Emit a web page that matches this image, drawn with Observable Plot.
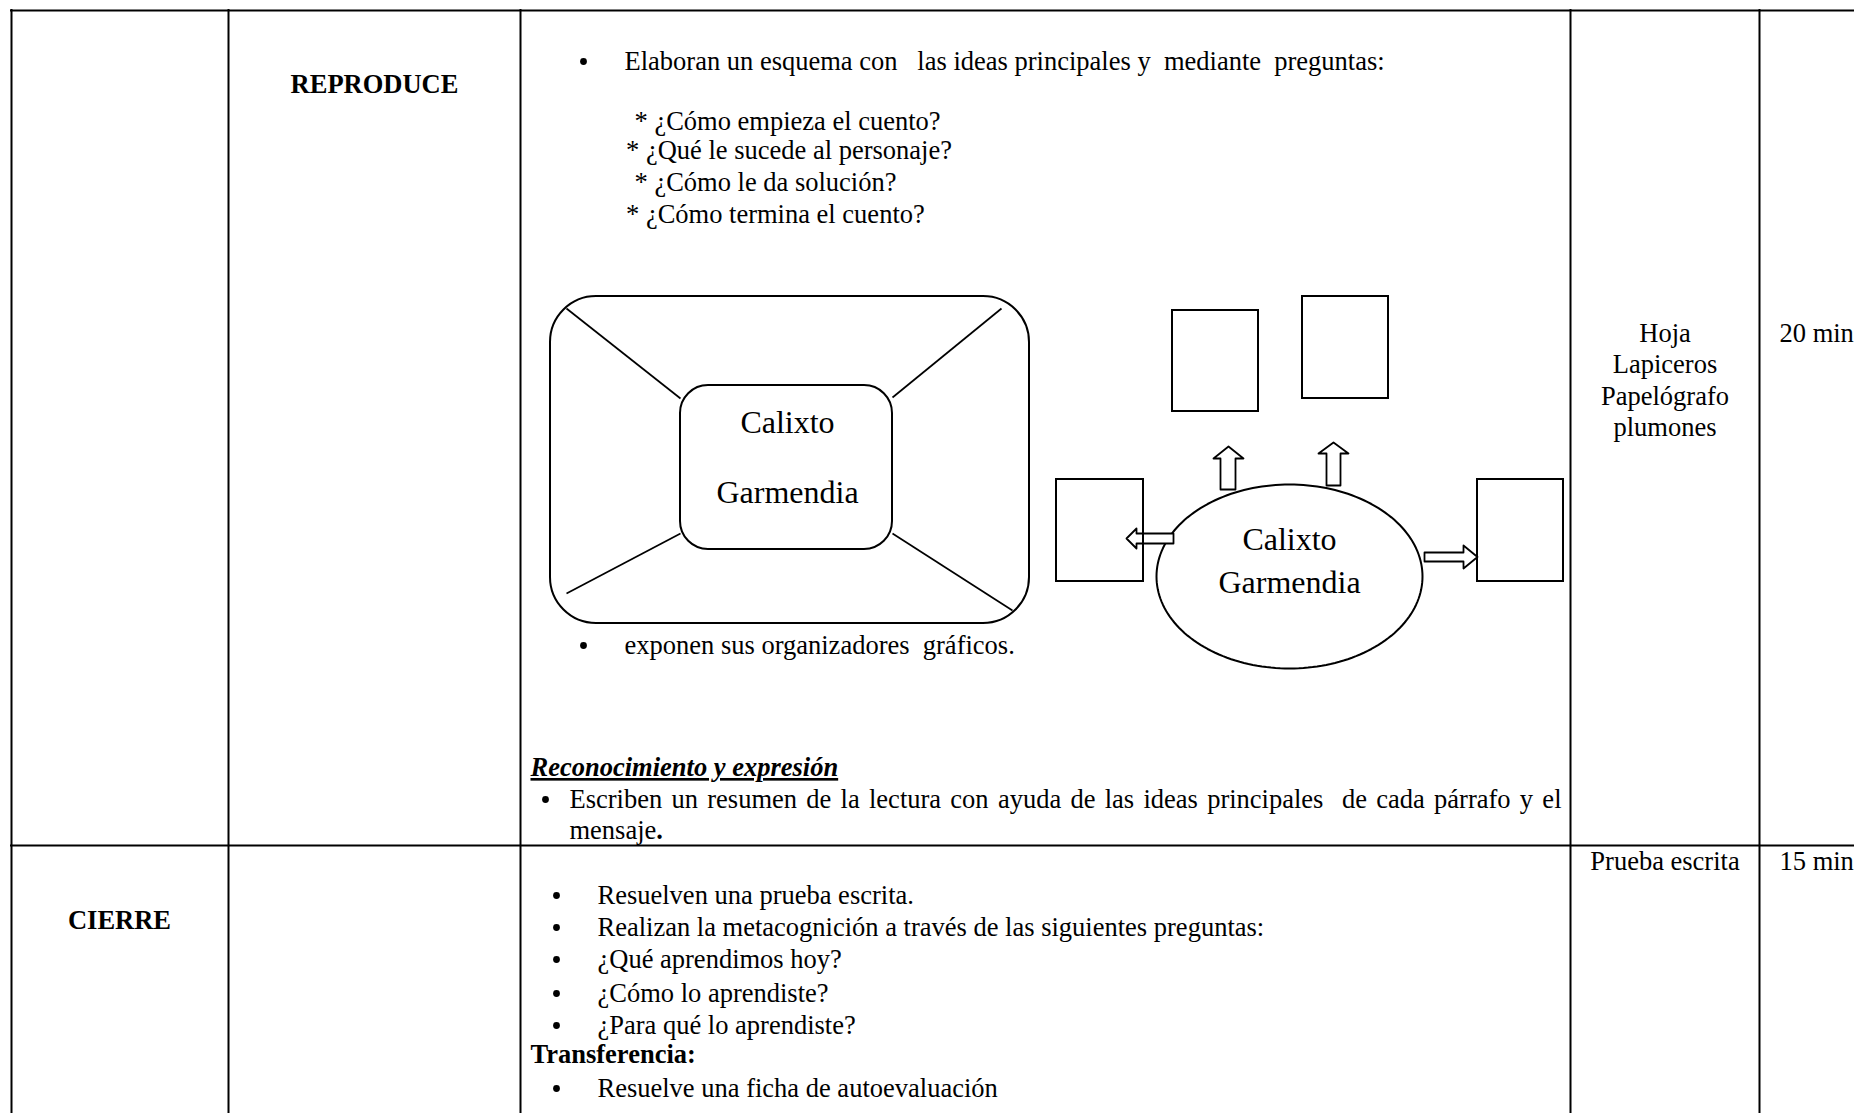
<!DOCTYPE html>
<html><head><meta charset="utf-8">
<script src="https://cdn.jsdelivr.net/npm/d3@7"></script>
<script src="https://cdn.jsdelivr.net/npm/@observablehq/plot@0.6"></script>
<style>
html,body{margin:0;padding:0;background:#fff;}
#chart svg{display:block;background:#fff;}
#chart svg text{white-space:pre;}
</style></head><body><div id="chart"></div>
<script>
const W = 1854, H = 1113;
const FONT = "'Liberation Serif','Times New Roman',serif";

// ---- table grid ----
const columnLinesX = [11, 228, 520, 1570, 1759];
const rowLinesY = [10, 845];

// ---- section labels (bold, centered) ----
const sectionLabels = [
  {text: "REPRODUCE", x: 374, y: 84},
  {text: "CIERRE", x: 119, y: 920}
];

// ---- activity text lines (left aligned) ----
const reproduceLines = [
  {text: "Elaboran un esquema con   las ideas principales y  mediante  preguntas:", x: 624, y: 61},
  {text: "* ¿Cómo empieza el cuento?", x: 634, y: 121},
  {text: "* ¿Qué le sucede al personaje?", x: 625.5, y: 150},
  {text: "* ¿Cómo le da solución?", x: 634, y: 182},
  {text: "* ¿Cómo termina el cuento?", x: 625.5, y: 214},
  {text: "exponen sus organizadores  gráficos.", x: 624, y: 645},
  {text: "Escriben un resumen de la lectura con ayuda de las ideas principales  de cada párrafo y el", x: 569, y: 799},
  {text: "mensaje.", x: 569, y: 830}
];
const cierreLines = [
  {text: "Resuelven una prueba escrita.", x: 597, y: 895},
  {text: "Realizan la metacognición a través de las siguientes preguntas:", x: 597, y: 927},
  {text: "¿Qué aprendimos hoy?", x: 597, y: 959},
  {text: "¿Cómo lo aprendiste?", x: 597, y: 993},
  {text: "¿Para qué lo aprendiste?", x: 597, y: 1025},
  {text: "Resuelve una ficha de autoevaluación", x: 597, y: 1088}
];
const subHeadingItalic = [{text: "Reconocimiento y expresión", x: 530, y: 767}];
const subHeadingBold = [{text: "Transferencia:", x: 530, y: 1054}];
const bullets = [
  {x: 583, y: 61}, {x: 583, y: 645}, {x: 545, y: 799},
  {x: 556, y: 895}, {x: 556, y: 927}, {x: 556, y: 959},
  {x: 556, y: 993}, {x: 556, y: 1025}, {x: 556, y: 1088}
];

// ---- resources & time columns ----
const resources = ["Hoja", "Lapiceros", "Papelógrafo", "plumones", "Prueba escrita"];
const resourceY = [333, 364.5, 396, 427.5, 861];
const resourceX = 1664.5;
const times = ["20 min", "15 min"];
const timeY = [333, 861];
const timeX = 1779;

// ---- diagram 1: rounded frames with diagonal connectors ----
const frames = [
  {x1: 550, x2: 1029, y1: 296, y2: 623},
  {x1: 680, x2: 892, y1: 385, y2: 549}
];
const connectors = [
  {x1: 566, y1: 308, x2: 680, y2: 398},
  {x1: 1001, y1: 308, x2: 892, y2: 397},
  {x1: 566, y1: 593, x2: 680, y2: 533},
  {x1: 1012, y1: 610, x2: 892, y2: 533}
];
const diagramLabels = [
  {text: "Calixto", x: 787, y: 422},
  {text: "Garmendia", x: 787, y: 492},
  {text: "Calixto", x: 1289, y: 539},
  {text: "Garmendia", x: 1289, y: 582}
];

// ---- diagram 2: ellipse, boxes and block arrows ----
const ellipseSpec = {cx: 1289, cy: 576, rx: 133, ry: 92};
const boxes = [
  {x1: 1172, x2: 1258, y1: 310, y2: 411},
  {x1: 1302, x2: 1388, y1: 296, y2: 398},
  {x1: 1056, x2: 1143, y1: 479, y2: 581},
  {x1: 1477, x2: 1563, y1: 479, y2: 581}
];
const arrowUp1 = [[1220,489],[1220,458],[1213,458],[1228,446],[1243,458],[1235,458],[1235,489]];
const arrowUp2 = [[1326,485],[1326,453],[1318,453],[1333,442],[1348,453],[1340,453],[1340,485]];
const arrowLeft = [[1173,533],[1136,533],[1136,528],[1126,538],[1136,548],[1136,543],[1173,543]];
const arrowRight = [[1424,552],[1463,552],[1463,545],[1477,556.5],[1463,568],[1463,561],[1424,561]];

const arrowPts = [arrowUp1, arrowUp2, arrowLeft, arrowRight]
  .flatMap((a, i) => a.map(([x, y]) => ({x, y, id: i})));
const ellipsePts = d3.range(0, 360, 2).map(a => ({
  x: ellipseSpec.cx + ellipseSpec.rx * Math.cos(a * Math.PI / 180),
  y: ellipseSpec.cy + ellipseSpec.ry * Math.sin(a * Math.PI / 180)
}));

const txt = {fontFamily: FONT, fill: "#000", lineAnchor: "middle"};

const plot = Plot.plot({
  width: W, height: H,
  margin: 0,
  x: {domain: [0, W], range: [0, W], axis: null},
  y: {domain: [0, H], range: [0, H], axis: null},
  style: {background: "#fff", fontFamily: FONT},
  marks: [
    // grid
    Plot.ruleX(columnLinesX, {x: d => d, y1: 9, y2: H, stroke: "#000", strokeWidth: 2}),
    Plot.ruleY(rowLinesY, {y: d => d, x1: 10, x2: W, stroke: "#000", strokeWidth: 2}),
    // diagram 1
    Plot.rect(frames.slice(0, 1), {x1: "x1", x2: "x2", y1: "y1", y2: "y2", rx: 46, ry: 46, fill: "none", stroke: "#000", strokeWidth: 2}),
    Plot.link(connectors, {x1: "x1", y1: "y1", x2: "x2", y2: "y2", stroke: "#000", strokeWidth: 1.7}),
    Plot.rect(frames.slice(1), {x1: "x1", x2: "x2", y1: "y1", y2: "y2", rx: 28, ry: 28, fill: "#fff", stroke: "#000", strokeWidth: 2}),
    // diagram 2
    Plot.line(ellipsePts, {x: "x", y: "y", curve: "linear-closed", fill: "#fff", stroke: "#000", strokeWidth: 2}),
    Plot.line(arrowPts, {x: "x", y: "y", z: "id", curve: "linear-closed", fill: "#fff", stroke: "#000", strokeWidth: 1.8}),
    Plot.rect(boxes, {x1: "x1", x2: "x2", y1: "y1", y2: "y2", fill: "none", stroke: "#000", strokeWidth: 2}),
    Plot.text(diagramLabels, {...txt, x: "x", y: "y", text: "text", fontSize: 32, textAnchor: "middle"}),
    // text
    Plot.text(sectionLabels, {...txt, x: "x", y: "y", text: "text", fontSize: 26.5, fontWeight: "bold", textAnchor: "middle"}),
    Plot.text(reproduceLines, {...txt, x: "x", y: "y", text: "text", fontSize: 26.5, textAnchor: "start"}),
    Plot.text(cierreLines, {...txt, x: "x", y: "y", text: "text", fontSize: 26.5, textAnchor: "start"}),
    Plot.text(subHeadingItalic, {...txt, x: "x", y: "y", text: "text", fontSize: 26.5, fontWeight: "bold", fontStyle: "italic", textAnchor: "start"}),
    Plot.text(subHeadingBold, {...txt, x: "x", y: "y", text: "text", fontSize: 26.5, fontWeight: "bold", textAnchor: "start"}),
    Plot.dot(bullets, {x: "x", y: "y", r: 3.4, fill: "#000", stroke: null}),
    Plot.text(resources, {...txt, x: () => resourceX, y: (d, i) => resourceY[i], text: d => d, fontSize: 26.5, textAnchor: "middle"}),
    Plot.text(times, {...txt, x: () => timeX, y: (d, i) => timeY[i], text: d => d, fontSize: 26.5, textAnchor: "start"})
  ]
});

document.getElementById("chart").appendChild(plot);

// typographic touches: underline, justification, bold period
const svg = d3.select(plot);
svg.selectAll("text").each(function() {
  const t = this.textContent;
  if (t === "Reconocimiento y expresión") {
    this.style.textDecoration = "underline";
  } else if (t.startsWith("Escriben un resumen")) {
    const natural = this.getComputedTextLength();
    const target = 1561 - 569;
    const spaces = (t.match(/ /g) || []).length;
    if (spaces > 0) this.style.wordSpacing = ((target - natural) / spaces) + "px";
  } else if (t === "mensaje.") {
    this.textContent = "mensaje";
    const ts = document.createElementNS("http://www.w3.org/2000/svg", "tspan");
    ts.setAttribute("font-weight", "bold");
    ts.textContent = ".";
    this.appendChild(ts);
  }
});
</script></body></html>
